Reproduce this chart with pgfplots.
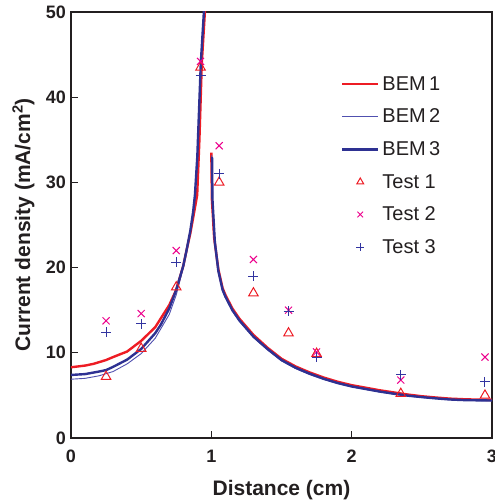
\documentclass[border=0pt]{standalone}
\usepackage{fontspec}
\setmainfont{Liberation Sans}
\usepackage{pgfplots}
\pgfplotsset{compat=1.18}
\definecolor{bemred}{RGB}{237,28,36}
\definecolor{bemblue}{RGB}{80,80,175}
\definecolor{bemdark}{RGB}{46,49,146}
\definecolor{tmag}{RGB}{236,0,140}
\definecolor{tblue}{RGB}{50,52,160}
\definecolor{txt}{RGB}{35,31,32}
\pgfplotsset{
  linelegend/.style={legend image code/.code={\draw[##1] (0pt,0pt) -- (36pt,0pt);}},
  marklegend/.style={legend image code/.code={\path[draw=none,fill=none] (0pt,0pt) -- (36pt,0pt); \draw[##1, mark size=4pt] plot coordinates {(18pt,0pt)};}},
}
\begin{document}
\begin{tikzpicture}
\begin{axis}[
  at={(0,0)}, anchor=south west,
  scale only axis, width=421pt, height=426pt,
  xmin=0, xmax=3, ymin=0, ymax=50,
  xtick={0,1,2,3}, ytick={0,10,20,30,40,50},
  tick align=inside, xtick pos=bottom, ytick pos=left,
  major tick length=7pt,
  axis line style={line width=1.6pt, color=txt},
  tick style={line width=1.2pt, color=txt},
  /pgf/number format/assume math mode=true,
  ticklabel style={font=\fontsize{18}{20}\selectfont\bfseries, text=txt, inner sep=0pt},
  xticklabel shift=12pt,
  yticklabel shift=5pt,
  xlabel={Distance (cm)},
  ylabel={Current density (mA/cm\textsuperscript{2})},
  label style={font=\fontsize{21}{24}\selectfont\bfseries, text=txt},
  xlabel style={at={(axis description cs:0.5,-0.123)}, anchor=center},
  ylabel style={at={(axis description cs:-0.113,0.5)}, anchor=center},
  unbounded coords=jump,
  legend cell align=left,
  legend style={draw=none, fill=none, at={(0.641,0.849)}, anchor=north west,
    font=\fontsize{20}{22}\selectfont, text=txt, inner sep=0pt,
    row sep=17.2pt, column sep=3pt, nodes={inner sep=0pt}},
]
% BEM 1
\addplot[bemred, line width=2.4pt, linelegend] coordinates {
(0,8.3) (0.1,8.5) (0.16,8.7) (0.25,9.15) (0.3,9.5) (0.4,10.15) (0.5,11.4) (0.6,13.0) (0.7,15.6) (0.75,17.4) (0.8,20.2) (0.823,22) (0.85,24) (0.871,25.9) (0.899,28.5) (0.915,35) (0.932,44) (0.954,50) (0.96,53)
(0.98,nan)
(1.0,33.5) (1.004,28) (1.02,23.5) (1.05,19.8) (1.08,17.6) (1.1,16.8) (1.15,15.2) (1.2,14.0) (1.3,12.1) (1.4,10.6) (1.5,9.3) (1.6,8.4) (1.7,7.7) (1.8,7.1) (1.9,6.6) (2.0,6.2) (2.1,5.9) (2.2,5.6) (2.3,5.35) (2.4,5.1) (2.5,4.9) (2.6,4.75) (2.7,4.62) (2.8,4.55) (2.9,4.5) (3.0,4.47)
};
\addlegendentry{BEM\,1}
% BEM 2
\addplot[bemblue, line width=0.9pt, linelegend] coordinates {
(0,6.9) (0.1,7.0) (0.2,7.3) (0.3,7.8) (0.4,8.7) (0.5,9.9) (0.6,11.7) (0.7,14.5) (0.75,16.8) (0.8,20.0) (0.823,21.8) (0.85,24.2) (0.87,26.5) (0.883,28.5) (0.9,33) (0.925,44) (0.947,50) (0.955,54)
(0.98,nan)
(1.003,33.2) (1.007,28) (1.024,23) (1.05,19.5) (1.08,17.3) (1.1,16.5) (1.15,14.9) (1.2,13.7) (1.3,11.8) (1.4,10.35) (1.5,9.05) (1.6,8.15) (1.7,7.45) (1.8,6.88) (1.9,6.4) (2.0,6.0) (2.1,5.7) (2.2,5.4) (2.3,5.15) (2.4,4.93) (2.5,4.76) (2.6,4.62) (2.7,4.5) (2.8,4.43) (2.9,4.4) (3.0,4.38)
};
\addlegendentry{BEM\,2}
% BEM 3
\addplot[bemdark, line width=2.4pt, linelegend] coordinates {
(0,7.4) (0.1,7.5) (0.2,7.8) (0.25,7.97) (0.3,8.35) (0.4,9.2) (0.5,10.45) (0.6,12.3) (0.64,13.3) (0.7,15.2) (0.75,17.4) (0.8,20.2) (0.823,22) (0.85,24.3) (0.87,26.5) (0.883,28.5) (0.9,33) (0.925,44) (0.947,50) (0.955,54)
(0.98,nan)
(1.005,33) (1.008,28) (1.025,23) (1.05,19.6) (1.08,17.4) (1.1,16.6) (1.15,15.0) (1.2,13.8) (1.3,11.9) (1.4,10.45) (1.5,9.15) (1.6,8.25) (1.7,7.55) (1.8,6.95) (1.9,6.45) (2.0,6.05) (2.1,5.75) (2.2,5.45) (2.3,5.2) (2.4,4.97) (2.5,4.8) (2.6,4.65) (2.7,4.52) (2.8,4.45) (2.9,4.42) (3.0,4.4)
};
\addlegendentry{BEM\,3}
% Test 1
\addplot[only marks, bemred, mark=triangle, mark size=5.5pt, mark options={line width=1pt}, marklegend] coordinates {
(0.25,7.2) (0.5,10.5) (0.75,17.7) (0.923,43.5) (1.056,30.0) (1.30,17.0) (1.55,12.3) (1.75,9.9) (2.35,5.2) (2.95,5.0)
};
\addlegendentry{Test 1}
% Test 2
\addplot[only marks, tmag, mark=x, mark size=5pt, mark options={line width=1pt}, marklegend] coordinates {
(0.25,13.75) (0.5,14.6) (0.75,22.0) (0.923,44.2) (1.056,34.3) (1.30,20.95) (1.55,15.0) (1.75,10.1) (2.35,6.8) (2.95,9.5)
};
\addlegendentry{Test 2}
% Test 3
\addplot[only marks, tblue, mark=+, mark size=5pt, mark options={line width=1pt}, marklegend] coordinates {
(0.25,12.4) (0.5,13.4) (0.75,20.6) (0.923,42.6) (1.056,31.0) (1.30,19.0) (1.55,14.9) (1.75,9.5) (2.35,7.4) (2.95,6.6)
};
\addlegendentry{Test 3}
\end{axis}
\pgfresetboundingbox
\useasboundingbox (-71pt,-64pt) rectangle (423pt,438pt);
\end{tikzpicture}
\end{document}
